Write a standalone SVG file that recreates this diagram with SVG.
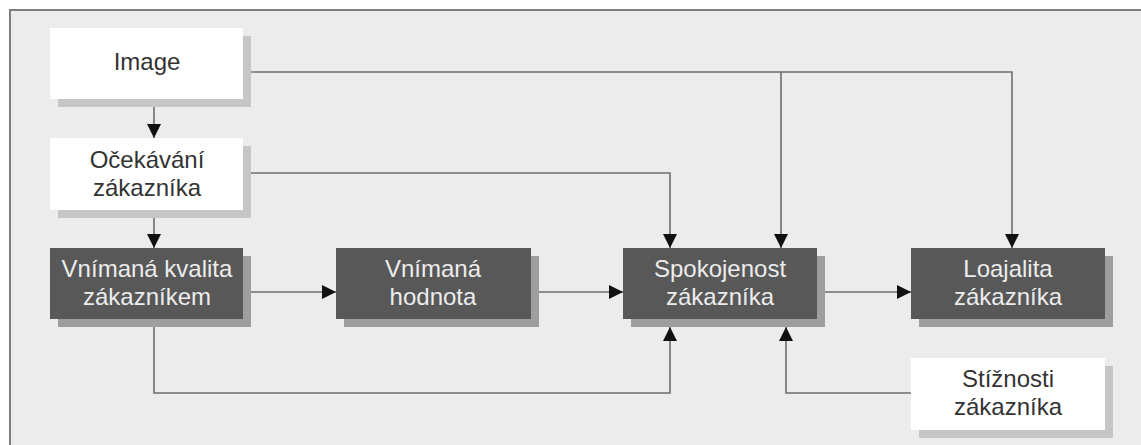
<svg xmlns="http://www.w3.org/2000/svg" width="1141" height="445" viewBox="0 0 1141 445">
<defs>
<marker id="arr" viewBox="0 0 14 14" markerWidth="14" markerHeight="14" refX="14" refY="7" orient="auto" markerUnits="userSpaceOnUse">
<path d="M0,0 L14,7 L0,14 z" fill="#111"/>
</marker>
</defs>
<style>
.frame{fill:#ececec;stroke:#808080;stroke-width:2}
.dark{fill:#585858}
.dsh{fill:#9e9e9e}
.light{fill:#ffffff}
.lsh{fill:#c6c6c6}
.conn{fill:none;stroke:#6e6e6e;stroke-width:1.6;marker-end:url(#arr)}
.tl{font-family:"Liberation Sans",Arial,sans-serif;font-size:24px;fill:#ececec;text-anchor:middle}
.td{font-family:"Liberation Sans",Arial,sans-serif;font-size:24px;fill:#333333;text-anchor:middle}
</style>
<rect x="0" y="0" width="1141" height="445" fill="#ffffff"/>
<rect class="frame" x="10" y="10" width="1145" height="450"/>

<g id="connectors">
<path class="conn" d="M154 107 V138"/>
<path class="conn" d="M154 218 V248"/>
<path class="conn" d="M251 292 H336"/>
<path class="conn" d="M538 292 H623"/>
<path class="conn" d="M825 292 H911"/>
<path class="conn" d="M251 72 H1012 V248"/>
<path class="conn" d="M781 72 V248"/>
<path class="conn" d="M251 173 H670 V248"/>
<path class="conn" d="M154 327 V393 H670 V327"/>
<path class="conn" d="M911 393 H786 V327"/>
</g>

<g id="image">
<rect class="lsh" x="58" y="36" width="193" height="71"/>
<rect class="light" x="50" y="28" width="193" height="71"/>
<text class="td" x="147" y="70">Image</text>
</g>

<g id="ocekavani">
<rect class="lsh" x="58" y="146" width="193" height="72"/>
<rect class="light" x="50" y="138" width="193" height="72"/>
<text class="td" x="147" y="168">Očekávání</text>
<text class="td" x="147" y="196">zákazníka</text>
</g>

<g id="kvalita">
<rect class="dsh" x="58" y="256" width="193" height="71"/>
<rect class="dark" x="50" y="248" width="193" height="71"/>
<text class="tl" x="147" y="277">Vnímaná kvalita</text>
<text class="tl" x="147" y="305">zákazníkem</text>
</g>

<g id="hodnota">
<rect class="dsh" x="344" y="256" width="195" height="71"/>
<rect class="dark" x="336" y="248" width="195" height="71"/>
<text class="tl" x="433" y="277">Vnímaná</text>
<text class="tl" x="433" y="305">hodnota</text>
</g>

<g id="spokojenost">
<rect class="dsh" x="631" y="256" width="194" height="71"/>
<rect class="dark" x="623" y="248" width="194" height="71"/>
<text class="tl" x="720" y="277">Spokojenost</text>
<text class="tl" x="720" y="305">zákazníka</text>
</g>

<g id="loajalita">
<rect class="dsh" x="919" y="256" width="194" height="71"/>
<rect class="dark" x="911" y="248" width="194" height="71"/>
<text class="tl" x="1008" y="277">Loajalita</text>
<text class="tl" x="1008" y="305">zákazníka</text>
</g>

<g id="stiznosti">
<rect class="lsh" x="919" y="366" width="194" height="72"/>
<rect class="light" x="911" y="358" width="194" height="72"/>
<text class="td" x="1008" y="387">Stížnosti</text>
<text class="td" x="1008" y="415">zákazníka</text>
</g>
</svg>
